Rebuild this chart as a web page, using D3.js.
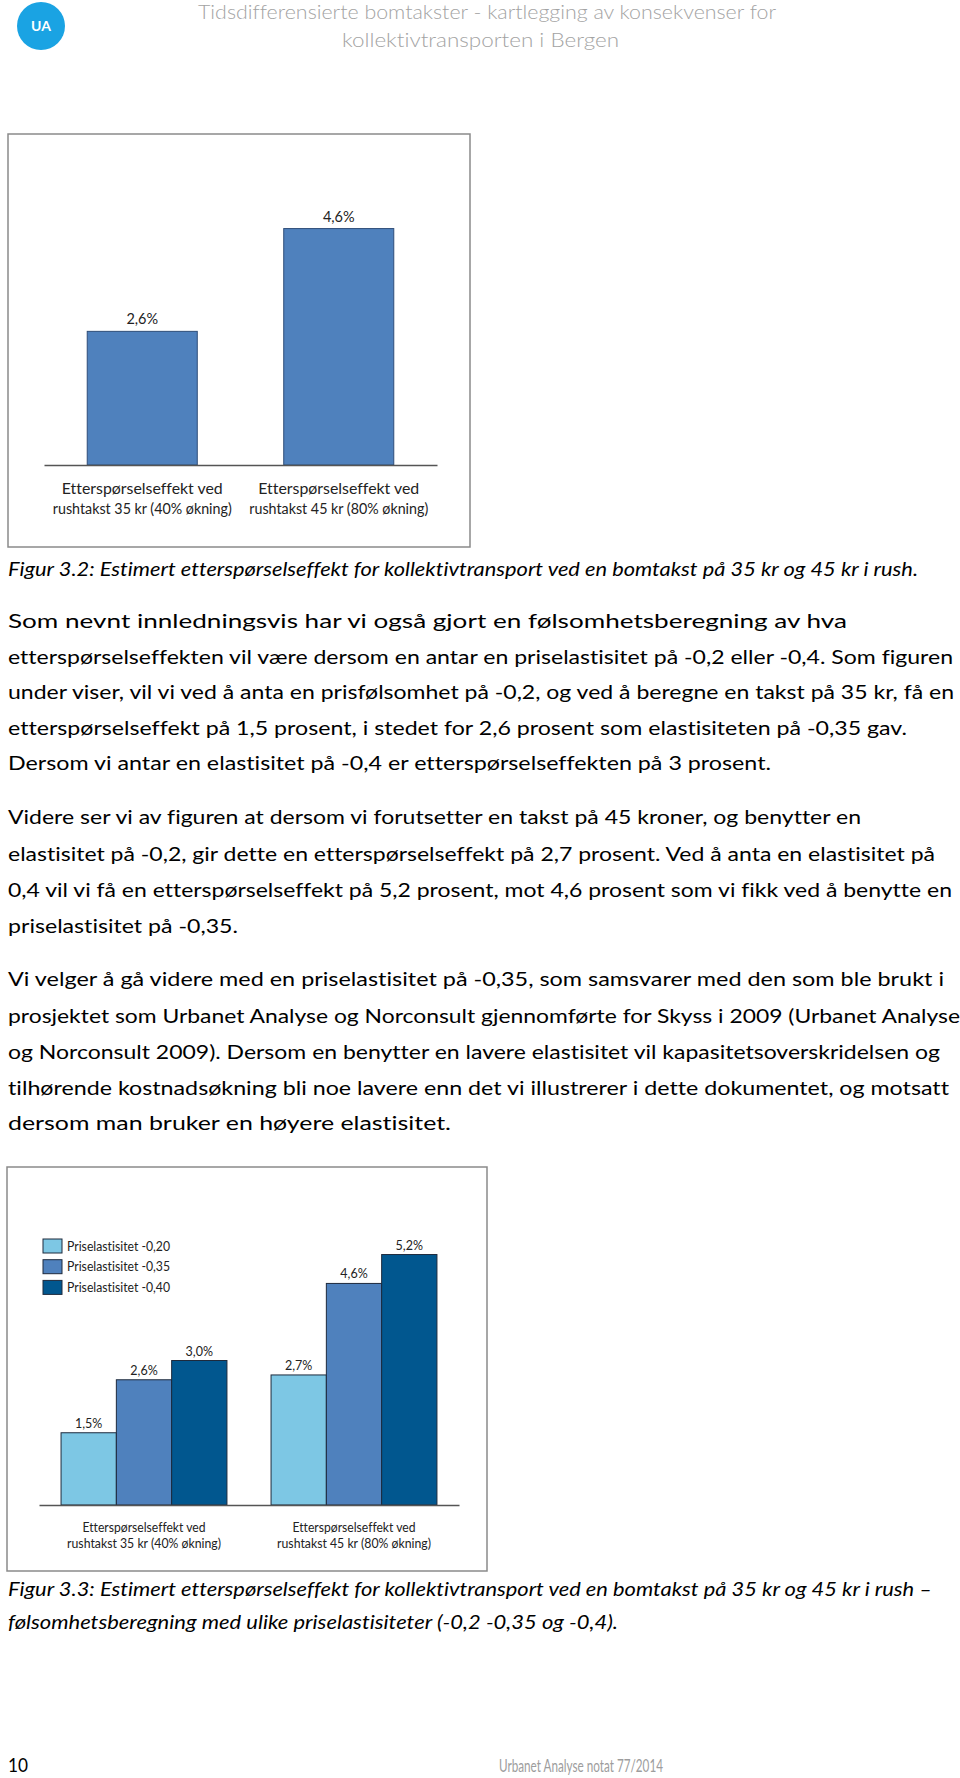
<!DOCTYPE html>
<html><head><meta charset="utf-8">
<script src="https://cdn.jsdelivr.net/npm/d3@7/dist/d3.min.js"></script>
<style>
html,body{margin:0;padding:0;background:#fff;}
svg{display:block;}
text{font-family:Lato,"Open Sans",sans-serif;font-variant-ligatures:none;font-feature-settings:"liga" 0,"clig" 0,"dlig" 0;}
</style></head>
<body>
<script>
// ---------- data ----------
const categories = ["Etterspørselseffekt ved|rushtakst 35 kr (40% økning)", "Etterspørselseffekt ved|rushtakst 45 kr (80% økning)"];
const fig1Values = [2.6, 4.6];
const fig1Labels = ["2,6%", "4,6%"];

const seriesNames = ["Priselastisitet -0,20", "Priselastisitet -0,35", "Priselastisitet -0,40"];
const series020 = [1.5, 2.7];
const series035 = [2.6, 4.6];
const series040 = [3.0, 5.2];
const fig2Labels020 = ["1,5%", "2,7%"];
const fig2Labels035 = ["2,6%", "4,6%"];
const fig2Labels040 = ["3,0%", "5,2%"];

const headerLines = ["Tidsdifferensierte bomtakster - kartlegging av konsekvenser for", "kollektivtransporten i Bergen"];
const caption1 = ["Figur 3.2: Estimert etterspørselseffekt for kollektivtransport ved en bomtakst på 35 kr og 45 kr i rush."];
const para1 = [
 "Som nevnt innledningsvis har vi også gjort en følsomhetsberegning av hva",
 "etterspørselseffekten vil være dersom en antar en priselastisitet på -0,2 eller -0,4. Som figuren",
 "under viser, vil vi ved å anta en prisfølsomhet på -0,2, og ved å beregne en takst på 35 kr, få en",
 "etterspørselseffekt på 1,5 prosent, i stedet for 2,6 prosent som elastisiteten på -0,35 gav.",
 "Dersom vi antar en elastisitet på -0,4 er etterspørselseffekten på 3 prosent."];
const para2 = [
 "Videre ser vi av figuren at dersom vi forutsetter en takst på 45 kroner, og benytter en",
 "elastisitet på -0,2, gir dette en etterspørselseffekt på 2,7 prosent. Ved å anta en elastisitet på",
 "0,4 vil vi få en etterspørselseffekt på 5,2 prosent, mot 4,6 prosent som vi fikk ved å benytte en",
 "priselastisitet på -0,35."];
const para3 = [
 "Vi velger å gå videre med en priselastisitet på -0,35, som samsvarer med den som ble brukt i",
 "prosjektet som Urbanet Analyse og Norconsult gjennomførte for Skyss i 2009 (Urbanet Analyse",
 "og Norconsult 2009). Dersom en benytter en lavere elastisitet vil kapasitetsoverskridelsen og",
 "tilhørende kostnadsøkning bli noe lavere enn det vi illustrerer i dette dokumentet, og motsatt",
 "dersom man bruker en høyere elastisitet."];
const caption2 = [
 "Figur 3.3: Estimert etterspørselseffekt for kollektivtransport ved en bomtakst på 35 kr og 45 kr i rush –",
 "følsomhetsberegning med ulike priselastisiteter (-0,2 -0,35 og -0,4)."];
const footerPage = "10";
const footerTitle = "Urbanet Analyse notat 77/2014";

// ---------- layout ----------
const W = 960, H = 1778;
const svg = d3.select("body").append("svg").attr("width", W).attr("height", H);

function fitText(sel, str, x, y, width, opts) {
  const t = sel.append("text").attr("x", x).attr("y", y).text(str)
    .attr("font-size", opts.size).attr("fill", opts.fill || "#000");
  if (opts.italic) t.attr("font-style", "italic");
  if (opts.weight) t.attr("font-weight", opts.weight);
  if (opts.anchor) t.attr("text-anchor", opts.anchor);
  if (width) t.attr("textLength", width).attr("lengthAdjust", "spacingAndGlyphs");
  return t;
}

// header
svg.append("circle").attr("cx", 41).attr("cy", 26).attr("r", 24).attr("fill", "#1AA3E3");
svg.append("text").attr("x", 41).attr("y", 31).attr("text-anchor", "middle")
  .attr("font-size", 14).attr("font-weight", 700).attr("fill", "#fff")
  .attr("font-family", "Roboto, sans-serif").text("UA");
fitText(svg, headerLines[0], 198, 19, 578, {size: 19, fill: "#a3a3a3", weight: 300});
fitText(svg, headerLines[1], 342, 47, 277, {size: 19, fill: "#a3a3a3", weight: 300});

// ---------- figure 1 ----------
const f1 = svg.append("g");
f1.append("rect").attr("x", 8).attr("y", 134).attr("width", 462).attr("height", 413)
  .attr("fill", "#fff").attr("stroke", "#8a8a8a").attr("stroke-width", 1.5);
const x1 = d3.scaleBand().domain(d3.range(categories.length)).range([44, 437])
  .paddingInner(0.44).paddingOuter(0.22);
const y1 = d3.scaleLinear().domain([0, 5]).range([465, 208]);
f1.selectAll("rect.bar").data(fig1Values).join("rect").attr("class", "bar")
  .attr("x", (d, i) => x1(i)).attr("width", x1.bandwidth())
  .attr("y", d => y1(d)).attr("height", d => y1(0) - y1(d))
  .attr("fill", "#4F81BD").attr("stroke", "#2F4E79").attr("stroke-width", 1);
f1.append("g").attr("transform", `translate(0,${y1(0)})`)
  .call(d3.axisBottom(x1).tickSize(0).tickFormat(""))
  .call(g => g.select(".domain").attr("stroke", "#555").attr("stroke-width", 1.3));
f1.selectAll("text.val").data(fig1Values).join("text").attr("class", "val")
  .attr("x", (d, i) => x1(i) + x1.bandwidth() / 2).attr("y", d => y1(d) - 7)
  .attr("text-anchor", "middle").attr("font-size", 14.5).attr("fill", "#222")
  .text((d, i) => fig1Labels[i]);
categories.forEach((c, i) => {
  const parts = c.split("|");
  const cx = x1(i) + x1.bandwidth() / 2;
  parts.forEach((p, k) => {
    fitText(f1, p, cx, 494 + k * 19.5, k === 0 ? 161 : 179, {size: 14.5, anchor: "middle", fill: "#222"});
  });
});

// captions & text
fitText(svg, caption1[0], 8, 576, 910, {size: 19, italic: true});
const bodyOpts = {size: 19.5, fill: "#000"};
const p1Base = [628, 663.5, 699, 734.5, 770];
const p1W = [839, 945, 946, 899, 763];
para1.forEach((l, i) => fitText(svg, l, 8, p1Base[i], p1W[i], bodyOpts));
const p2Base = [824, 860.5, 897, 933];
const p2W = [853, 927, 944, 230];
para2.forEach((l, i) => fitText(svg, l, 8, p2Base[i], p2W[i], bodyOpts));
const p3Base = [986, 1022.5, 1058.5, 1094.5, 1130];
const p3W = [936, 952, 932, 941, 443];
para3.forEach((l, i) => fitText(svg, l, 8, p3Base[i], p3W[i], bodyOpts));

// ---------- figure 2 ----------
const f2 = svg.append("g");
f2.append("rect").attr("x", 7).attr("y", 1167).attr("width", 480).attr("height", 404)
  .attr("fill", "#fff").attr("stroke", "#8a8a8a").attr("stroke-width", 1.5);
const x2 = d3.scaleBand().domain(d3.range(categories.length)).range([39, 459])
  .paddingInner(0.21).paddingOuter(0.105);
const xs = d3.scaleBand().domain(d3.range(seriesNames.length)).range([0, x2.bandwidth()]);
const y2 = d3.scaleLinear().domain([0, 6]).range([1505, 1505 - 289]);
const colors = ["#7DC7E4", "#4F81BD", "#01578F"];
const allSeries = [series020, series035, series040];
const allLabels = [fig2Labels020, fig2Labels035, fig2Labels040];
allSeries.forEach((vals, s) => {
  f2.selectAll("rect.s" + s).data(vals).join("rect").attr("class", "s" + s)
    .attr("x", (d, i) => x2(i) + xs(s)).attr("width", xs.bandwidth())
    .attr("y", d => y2(d)).attr("height", d => y2(0) - y2(d))
    .attr("fill", colors[s]).attr("stroke", "#1e2a3c").attr("stroke-width", 1);
  f2.selectAll("text.v" + s).data(vals).join("text").attr("class", "v" + s)
    .attr("x", (d, i) => x2(i) + xs(s) + xs.bandwidth() / 2).attr("y", d => y2(d) - 5)
    .attr("text-anchor", "middle").attr("font-size", 12.5).attr("fill", "#222")
    .text((d, i) => allLabels[s][i]);
});
f2.append("g").attr("transform", `translate(0,${y2(0)})`)
  .call(d3.axisBottom(x2).tickSize(0).tickFormat(""))
  .call(g => g.select(".domain").attr("stroke", "#555").attr("stroke-width", 1.3));
categories.forEach((c, i) => {
  const parts = c.split("|");
  const cx = x2(i) + x2.bandwidth() / 2;
  parts.forEach((p, k) => {
    fitText(f2, p, cx, 1531.5 + k * 16.5, k === 0 ? 123 : 154, {size: 12.5, anchor: "middle", fill: "#222"});
  });
});
// legend
const lg = f2.append("g").attr("transform", "translate(43,1239)");
seriesNames.forEach((n, s) => {
  lg.append("rect").attr("x", 0).attr("y", s * 20.7).attr("width", 19).attr("height", 14)
    .attr("fill", colors[s]).attr("stroke", "#1e2a3c").attr("stroke-width", 1);
  fitText(lg, n, 24, s * 20.7 + 11.5, 103, {size: 12.5, fill: "#222"});
});

fitText(svg, caption2[0], 8, 1596, 924, {size: 19, italic: true});
fitText(svg, caption2[1], 8, 1629, 610, {size: 19, italic: true});

// footer
fitText(svg, footerPage, 8, 1772, 20, {size: 19.5});
fitText(svg, footerTitle, 499, 1772, 164, {size: 17, fill: "#9d9d9d"});
</script>
</body></html>
